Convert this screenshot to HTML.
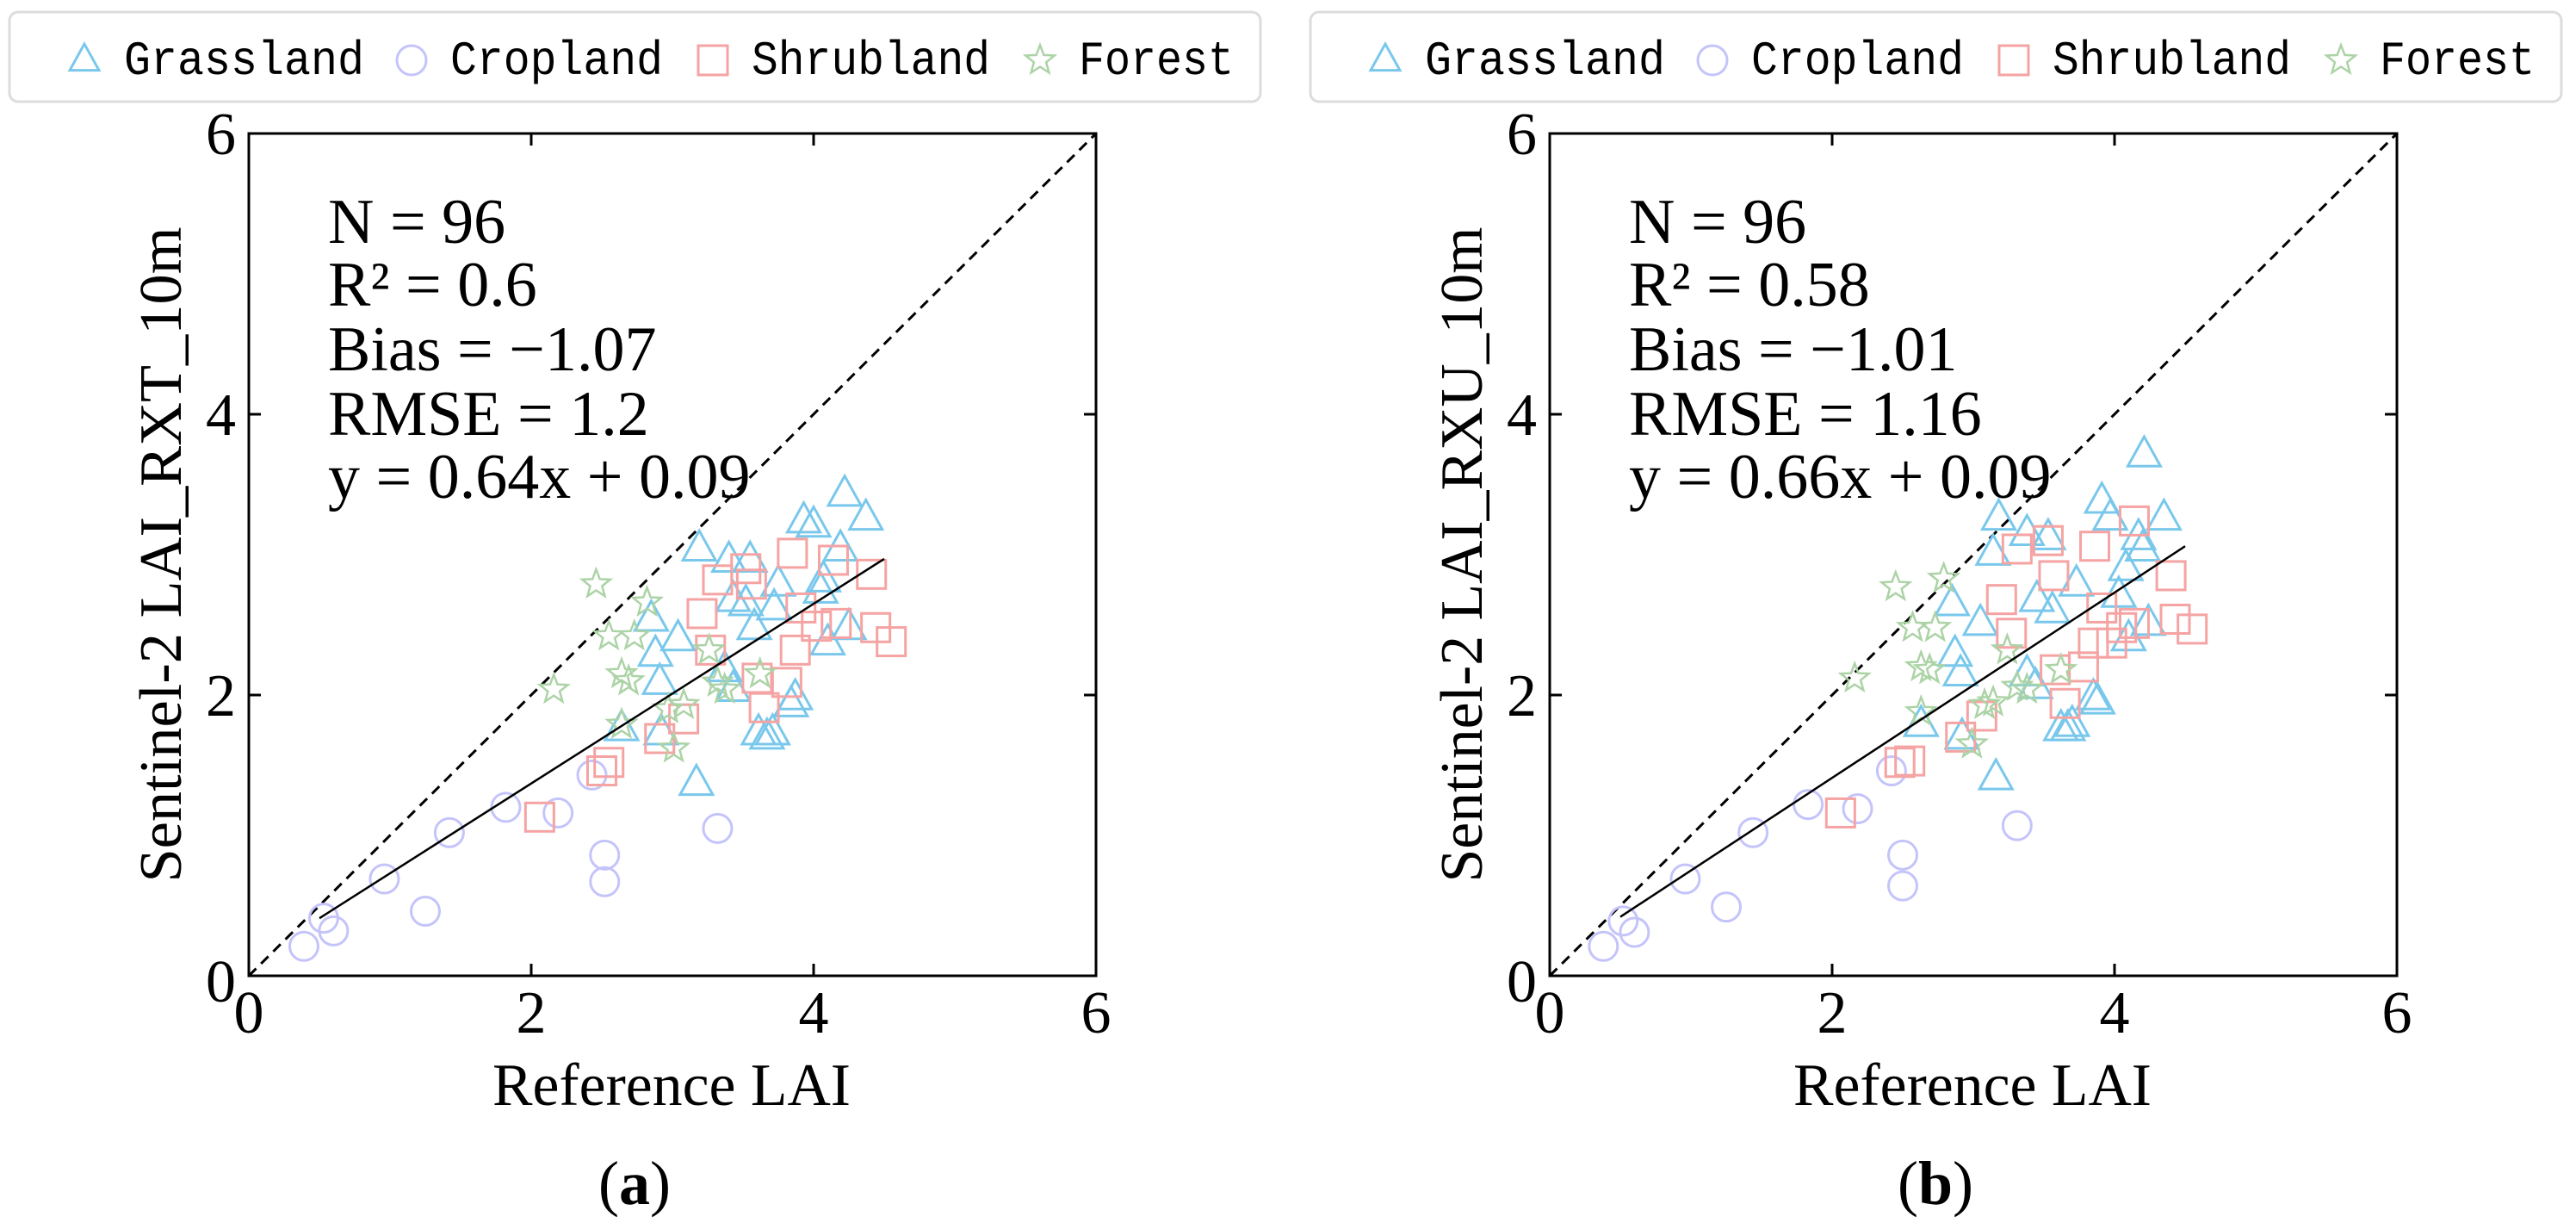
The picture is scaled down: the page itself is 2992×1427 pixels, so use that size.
<!DOCTYPE html>
<html><head><meta charset="utf-8"><style>
html,body{margin:0;padding:0;background:#fff}
svg{display:block}
text{font-family:"Liberation Serif",serif;fill:#000}
.mono{font-family:"Liberation Mono",monospace}
</style></head><body>
<svg id="chart" width="2992" height="1427" viewBox="0 0 2992 1427" xmlns="http://www.w3.org/2000/svg"></svg>
<script>
// ---- Panel (a) data: RXT ----
const aGrassX=[2.64,2.85,2.88,2.91,2.92,3.04,3.17,3.19,3.40,3.43,3.52,3.55,3.58,3.61,3.67,3.71,3.75,3.72,3.84,3.87,3.93,4.00,4.05,4.07,4.10,4.19,4.22,4.25,4.37,3.37,3.43];
const aGrassY=[1.76,2.54,2.29,2.09,1.73,2.40,1.37,3.04,2.96,2.68,2.65,2.96,2.48,1.73,1.70,1.73,2.79,2.62,1.93,1.98,3.24,3.21,2.74,2.82,2.37,3.04,3.43,2.48,3.26,2.18,2.04];
const aCropX=[0.39,0.53,0.60,0.96,1.25,1.42,1.82,2.19,2.43,2.52,2.52,3.32];
const aCropY=[0.21,0.41,0.32,0.69,0.46,1.02,1.20,1.16,1.43,0.86,0.67,1.05];
const aShrubX=[2.06,2.50,2.55,2.91,3.08,3.21,3.27,3.32,3.52,3.56,3.60,3.65,3.81,3.85,3.87,3.91,4.02,4.14,4.16,4.41,4.44,4.55];
const aShrubY=[1.13,1.46,1.52,1.69,1.83,2.58,2.32,2.82,2.90,2.79,2.12,1.91,2.09,3.01,2.32,2.62,2.49,2.96,2.51,2.86,2.48,2.38];
const aForX=[2.16,2.46,2.55,2.64,2.69,2.73,2.82,2.64,3.01,2.97,3.08,3.26,3.32,3.37,3.62];
const aForY=[2.04,2.79,2.42,2.15,2.10,2.42,2.66,1.79,1.62,1.90,1.93,2.32,2.09,2.04,2.15];
const aFit=[0.64,0.09];
const aStats=["N = 96","R² = 0.6","Bias = −1.07","RMSE = 1.2","y = 0.64x + 0.09"];
// ---- Panel (b) data: RXU ----
const bGrassX=[2.63,2.85,2.87,2.91,2.92,3.05,3.16,3.18,3.14,3.38,3.45,3.53,3.56,3.62,3.67,3.70,3.73,3.85,3.88,3.91,3.97,4.03,4.08,4.10,4.17,4.21,4.24,4.35,4.20,3.38,3.44];
const bGrassY=[1.79,2.65,2.29,2.15,1.70,2.51,1.41,3.26,3.01,3.15,2.68,3.12,2.60,1.76,1.76,1.79,2.79,1.98,1.95,3.38,3.26,2.71,2.90,2.40,3.12,3.71,2.51,3.26,3.04,2.15,2.06];
const bCropX=[0.38,0.52,0.60,0.96,1.25,1.44,1.83,2.18,2.42,2.50,2.50,3.31];
const bCropY=[0.21,0.39,0.31,0.69,0.49,1.02,1.22,1.19,1.46,0.86,0.64,1.07];
const bShrubX=[2.06,2.48,2.55,2.91,3.06,3.20,3.27,3.31,3.53,3.57,3.58,3.65,3.78,3.86,3.85,3.91,3.98,4.05,4.14,4.14,4.40,4.43,4.55];
const bShrubY=[1.16,1.52,1.53,1.70,1.85,2.68,2.44,3.04,3.10,2.85,2.18,1.94,2.20,3.06,2.37,2.62,2.37,2.48,3.24,2.51,2.85,2.54,2.47];
const bForX=[2.16,2.45,2.57,2.73,2.63,2.69,2.79,2.63,2.99,3.08,3.14,3.24,3.31,3.38,3.62];
const bForY=[2.12,2.77,2.48,2.48,2.20,2.18,2.83,1.88,1.65,1.93,1.95,2.32,2.06,2.04,2.18];
const bFit=[0.66,0.09];
const bStats=["N = 96","R² = 0.58","Bias = −1.01","RMSE = 1.16","y = 0.66x + 0.09"];
const ticks=[0,2,4,6];
const legendLabels=["Grassland","Cropland","Shrubland","Forest"];

const NS="http://www.w3.org/2000/svg";
const svg=document.getElementById('chart');
const COL={g:"#79c8ec",c:"#c4c4fb",s:"#f5a3a3",f:"#acd3a6"};
function mk(tag,attrs,parent){const e=document.createElementNS(NS,tag);for(const k in attrs)e.setAttribute(k,attrs[k]);(parent||svg).appendChild(e);return e;}
function marker(type,cx,cy,g,s){
  let e;
  if(type==='g'){const h=s*0.9;e=mk('polygon',{points:`${cx},${cy-h*0.62} ${cx-s/2},${cy+h*0.38} ${cx+s/2},${cy+h*0.38}`},g);}
  else if(type==='c'){e=mk('circle',{cx:cx,cy:cy,r:s/2},g);}
  else if(type==='s'){e=mk('rect',{x:cx-s/2,y:cy-s/2,width:s,height:s},g);}
  else {let p=[];for(let i=0;i<10;i++){const r=i%2?s*0.22:s*0.52;const a=-Math.PI/2+i*Math.PI/5;p.push((cx+r*Math.cos(a)).toFixed(1)+','+(cy+r*Math.sin(a)).toFixed(1));}e=mk('polygon',{points:p.join(' ')},g);}
  e.setAttribute('fill','none');e.setAttribute('stroke',COL[type]);e.setAttribute('stroke-width',type==='f'?2.5:3);
  return e;
}
function panel(off,name,ylabel,sub,G,C,S,F,fit,stats){
  const g=mk('g',{transform:`translate(${off},0)`});
  
  
  const X0=289,Y0=1133,W=984,H=978;
  const X=v=>X0+v*W/6, Y=v=>Y0-v*H/6;
  const lg=mk('g',{},g);
  
  
  mk('rect',{x:11,y:14,width:1453,height:104,rx:10,fill:'#fff',stroke:'#dcdcdc','stroke-width':3},lg);
  const mx=[98,478,828,1208],tx=[144,523,873,1253],tw=[279,247,277,180],types=['g','c','s','f'];
  for(let i=0;i<4;i++){
    const it=mk('g',{},lg);
    
    
    marker(types[i],mx[i],70,it,34);
    const t=mk('text',{x:tx[i],y:86,'font-size':56,class:'mono',textLength:tw[i],lengthAdjust:'spacingAndGlyphs'},it);
    t.textContent=legendLabels[i];
  }
  const d=mk('line',{x1:X(0),y1:Y(0),x2:X(6),y2:Y(6),stroke:'#000','stroke-width':3,'stroke-dasharray':'12,8'},g);
  
  
  const sets=[['g',G],['c',C],['s',S],['f',F]];
  for(const [t,[xs,ys]] of sets){
    const sg=mk('g',{},g);
    
    
    for(let i=0;i<xs.length;i++){
      const m=marker(t,X(xs[i]),Y(ys[i]),sg,t==='g'?38:33);
      
      
    }
  }
  const r=mk('line',{x1:X(0.5),y1:Y(fit[0]*0.5+fit[1]),x2:X(4.5),y2:Y(fit[0]*4.5+fit[1]),stroke:'#000','stroke-width':2.5},g);
  
  
  const fr=mk('rect',{x:X0,y:Y(6),width:W,height:H,fill:'none',stroke:'#000','stroke-width':3},g);
  
  
  for(const v of ticks){
    if(v>0&&v<6){
      mk('line',{x1:X(v),y1:Y0,x2:X(v),y2:Y0-14,stroke:'#000','stroke-width':3},g);
      mk('line',{x1:X(v),y1:Y(6),x2:X(v),y2:Y(6)+14,stroke:'#000','stroke-width':3},g);
      mk('line',{x1:X0,y1:Y(v),x2:X0+14,y2:Y(v),stroke:'#000','stroke-width':3},g);
      mk('line',{x1:X0+W,y1:Y(v),x2:X0+W-14,y2:Y(v),stroke:'#000','stroke-width':3},g);
    }
    const xt=mk('text',{x:X(v),y:1199,'font-size':70,'text-anchor':'middle'},g);
    
    
    xt.textContent=v;
    const yt=mk('text',{x:274,y:Y(v)+24+(v===0?6:0),'font-size':70,'text-anchor':'end'},g);
    
    
    yt.textContent=v;
  }
  const xl=mk('text',{x:780,y:1283,'font-size':70,'text-anchor':'middle',textLength:416,lengthAdjust:'spacingAndGlyphs'},g);
  
  
  xl.textContent='Reference LAI';
  const yl=mk('text',{x:0,y:0,'font-size':70,'text-anchor':'middle',transform:'translate(210,644) rotate(-90)',textLength:761,lengthAdjust:'spacingAndGlyphs'},g);
  
  
  yl.textContent=ylabel;
  const sb=mk('g',{},g);
  
  
  const sy=[282,355,430,505,578];
  for(let i=0;i<stats.length;i++){const t=mk('text',{x:381,y:sy[i],'font-size':74},sb);t.textContent=stats[i];}
  const cap=mk('text',{x:737,y:1398,'font-size':72,'text-anchor':'middle'},g);
  
  
  cap.innerHTML='(<tspan font-weight="bold">'+sub+'</tspan>)';
}
panel(0,'panel-a','Sentinel-2 LAI_RXT_10m','a',[aGrassX,aGrassY],[aCropX,aCropY],[aShrubX,aShrubY],[aForX,aForY],aFit,aStats);
panel(1511,'panel-b','Sentinel-2 LAI_RXU_10m','b',[bGrassX,bGrassY],[bCropX,bCropY],[bShrubX,bShrubY],[bForX,bForY],bFit,bStats);
</script>
</body></html>
